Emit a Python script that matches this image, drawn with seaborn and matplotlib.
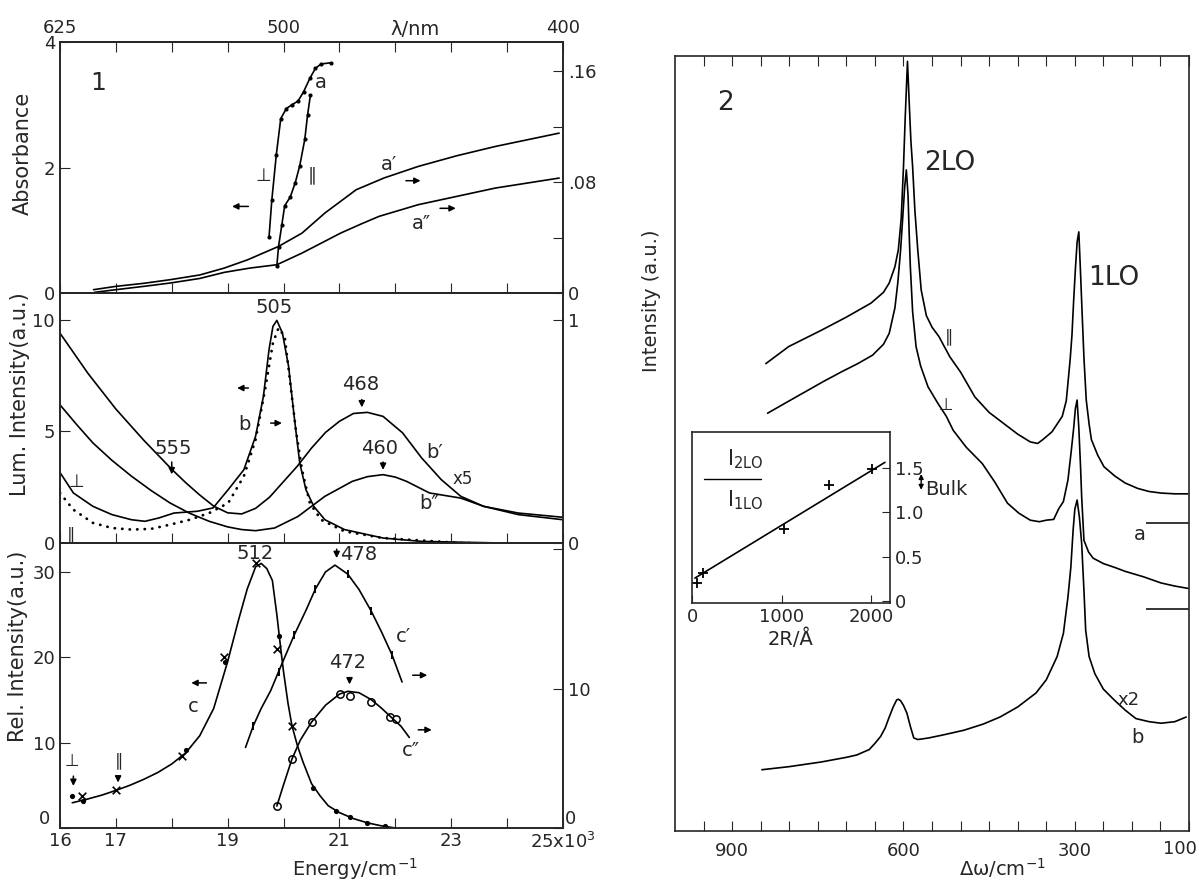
import numpy as np
import matplotlib.pyplot as plt
import seaborn as sns

sns.set_style('ticks')
plt.rcParams['font.family'] = ['DejaVu Sans']
plt.rcParams['xtick.direction'] = 'in'
plt.rcParams['ytick.direction'] = 'in'
plt.rcParams['xtick.major.size'] = 7
plt.rcParams['ytick.major.size'] = 7
plt.rcParams['axes.linewidth'] = 1.2

# ---------------- Figure 1, top: absorbance ----------------
a_perp_x = [19.74, 19.79, 19.87, 19.95, 20.05, 20.15, 20.26, 20.36, 20.47, 20.57, 20.67, 20.85]
a_perp_y = [0.89, 1.48, 2.20, 2.78, 2.94, 3.00, 3.06, 3.21, 3.42, 3.58, 3.65, 3.67]
a_para_x = [19.88, 19.91, 19.97, 20.02, 20.12, 20.21, 20.29, 20.38, 20.43, 20.48]
a_para_y = [0.43, 0.74, 1.09, 1.39, 1.53, 1.76, 2.03, 2.45, 2.84, 3.15]
a1_x = [16.60, 17.00, 17.50, 17.97, 18.50, 18.94, 19.36, 19.91, 20.33, 20.74, 21.30, 21.80, 22.41, 23.10, 23.79, 24.93]
a1_y = [0.0024, 0.0048, 0.0070, 0.0096, 0.0130, 0.0180, 0.0240, 0.0336, 0.0432, 0.0577, 0.0745, 0.0830, 0.0913, 0.0990, 0.1057, 0.1153]
a2_x = [16.62, 17.00, 17.50, 17.97, 18.50, 18.94, 19.40, 19.88, 20.33, 20.70, 21.02, 21.40, 21.71, 22.41, 23.10, 23.79, 24.93]
a2_y = [0.0005, 0.0024, 0.0048, 0.0072, 0.0105, 0.0149, 0.0180, 0.0204, 0.0288, 0.0365, 0.0432, 0.0500, 0.0553, 0.0637, 0.0697, 0.0757, 0.0829]

# ---------------- Figure 1, middle: luminescence ----------------
bA_x = [16.0, 16.25, 16.5, 16.75, 17.0, 17.25, 17.5, 17.75, 18.0, 18.25, 18.5, 18.75, 19.0, 19.25,
        19.5, 19.75, 20.0, 20.25, 20.5, 20.75, 21.0, 21.25, 21.5, 21.78, 22.13, 22.47, 22.82, 23.17,
        23.58, 24.2, 25.0]
bA_y = [9.4, 8.5, 7.6, 6.8, 6.0, 5.3, 4.6, 3.95, 3.3, 2.7, 2.15, 1.65, 1.35, 1.3, 1.55, 2.05, 2.75,
        3.45, 4.25, 4.95, 5.45, 5.8, 5.85, 5.67, 4.93, 3.81, 2.84, 2.09, 1.64, 1.34, 1.15]
bB_x = [16.0, 16.3, 16.59, 16.93, 17.28, 17.63, 17.97, 18.32, 18.67, 19.0, 19.25, 19.5, 19.84, 20.26,
        20.74, 21.23, 21.5, 21.78, 22.0, 22.2, 22.61, 23.17, 23.58, 24.2, 25.0]
bB_y = [6.19, 5.3, 4.48, 3.7, 2.99, 2.35, 1.79, 1.33, 0.97, 0.72, 0.6, 0.55, 0.67, 1.19, 2.09, 2.76,
        2.97, 3.06, 2.95, 2.76, 2.24, 2.01, 1.64, 1.27, 1.04]
b_perp_x = [16.0, 16.24, 16.59, 16.93, 17.28, 17.52, 17.77, 18.04, 18.46, 18.74, 19.01, 19.29, 19.5,
            19.64, 19.74, 19.81, 19.88, 19.98, 20.09, 20.19, 20.29, 20.4, 20.54, 20.74, 21.09, 21.78,
            22.47, 23.86, 25.0]
b_perp_y = [3.16, 2.24, 1.64, 1.27, 1.04, 0.97, 1.12, 1.34, 1.42, 1.57, 2.39, 3.28, 4.78, 6.57, 8.66,
            9.7, 9.97, 9.4, 7.91, 5.67, 3.58, 2.39, 1.64, 1.04, 0.6, 0.22, 0.07, 0.0, -0.06]
b_para_x = [16.0, 16.24, 16.59, 16.93, 17.28, 17.63, 17.97, 18.32, 18.67, 19.01, 19.29, 19.5, 19.67,
            19.81, 19.91, 20.02, 20.12, 20.22, 20.33, 20.47, 20.67, 21.09, 21.78, 23.17, 25.0]
b_para_y = [0.224, 0.149, 0.090, 0.067, 0.060, 0.063, 0.082, 0.104, 0.134, 0.179, 0.299, 0.463,
            0.687, 0.896, 0.963, 0.925, 0.716, 0.507, 0.328, 0.179, 0.104, 0.052, 0.022, 0.0, -0.008]

# ---------------- Figure 1, bottom: excitation spectra ----------------
c_x = [16.22, 16.5, 16.75, 17.0, 17.25, 17.5, 17.75, 18.0, 18.25, 18.5, 18.75, 19.0, 19.2, 19.35,
       19.5, 19.6, 19.7, 19.8, 19.88, 19.95, 20.0, 20.08, 20.15, 20.25, 20.35, 20.5, 20.65, 20.8,
       21.0, 21.25, 21.5, 21.75, 22.0]
c_y = [2.95, 3.4, 3.85, 4.4, 5.0, 5.7, 6.5, 7.5, 8.8, 10.8, 14.0, 19.5, 24.5, 28.0, 30.6, 31.0, 30.4,
       29.0, 25.0, 21.0, 18.3, 14.6, 12.0, 9.6, 7.7, 5.2, 3.8, 2.6, 1.8, 1.1, 0.6, 0.25, 0.0]
c_cross_x = [16.39, 17.01, 18.19, 18.94, 19.50, 19.89, 20.15]
c_cross_y = [3.7, 4.4, 8.4, 20.0, 31.0, 21.0, 12.0]
c_dot_x = [16.22, 16.42, 18.25, 18.96, 19.91, 20.53, 20.94, 21.19, 21.5, 21.82]
c_dot_y = [3.8, 3.2, 9.1, 19.5, 22.5, 4.7, 2.0, 1.3, 0.6, 0.2]
c1_x = [19.32, 19.46, 19.6, 19.77, 19.91, 20.19, 20.4, 20.57, 20.75, 20.92, 21.15, 21.35, 21.57,
        21.75, 21.94, 22.12]
c1_y = [5.78, 7.34, 8.57, 9.85, 11.2, 13.83, 15.6, 17.14, 18.36, 18.85, 18.2, 17.1, 15.54, 14.08,
        12.42, 10.47]
c1_mark_x = [19.46, 19.91, 20.19, 20.57, 21.15, 21.57, 21.94]
c1_mark_y = [7.34, 11.2, 13.83, 17.14, 18.2, 15.54, 12.42]
c2_x = [19.88, 20.0, 20.15, 20.3, 20.5, 20.75, 21.0, 21.15, 21.35, 21.57, 21.75, 21.91, 22.1, 22.25]
c2_y = [1.57, 3.1, 4.94, 6.3, 7.59, 8.8, 9.6, 9.8, 9.7, 9.2, 8.6, 8.0, 7.3, 6.49]
c2_mark_x = [19.88, 20.15, 20.5, 21.01, 21.19, 21.57, 21.91, 22.01]
c2_mark_y = [1.57, 4.94, 7.59, 9.64, 9.5, 9.03, 7.96, 7.83]

# ---------------- Figure 2: Raman spectra ----------------
r_para_x = [841, 801, 744, 700, 657, 635, 625, 615, 609, 604, 600, 597, 593, 590, 587, 584, 580, 575,
            569, 560, 550, 538, 519, 500, 475, 450, 425, 400, 378, 365, 356, 340, 322, 315, 312, 308,
            305, 302, 299, 296, 293, 290, 287, 284, 280, 275, 271, 260, 249, 230, 212, 190, 170, 149,
            125, 102]
r_para_y = [60.3, 62.5, 64.6, 66.3, 68.1, 69.5, 70.7, 72.8, 75.0, 79.0, 85.7, 92.0, 99.3, 94.0, 89.0,
            85.7, 80.0, 75.0, 69.8, 66.5, 65.0, 63.8, 61.2, 59.2, 56.0, 54.0, 52.6, 51.2, 50.2, 50.0,
            50.5, 51.5, 53.5, 55.5, 57.8, 61.0, 64.0, 68.5, 72.5, 76.0, 77.3, 72.0, 66.4, 61.0, 55.6,
            52.5, 50.5, 48.5, 47.0, 45.8, 44.9, 44.2, 43.8, 43.6, 43.5, 43.5]
r_perp_x = [838, 800, 776, 740, 707, 680, 654, 635, 625, 615, 610, 605, 601, 598, 595, 592, 590, 588,
            584, 578, 570, 557, 540, 525, 513, 490, 462, 440, 418, 398, 378, 362, 350, 337, 328, 320,
            312, 306, 302, 299, 296, 293, 290, 288, 284, 276, 268, 250, 230, 212, 180, 149, 125, 102]
r_perp_y = [53.9, 55.5, 56.5, 58.0, 59.3, 60.3, 61.4, 62.8, 64.2, 67.5, 70.7, 75.0, 79.5, 83.0, 85.3,
            82.0, 77.0, 72.8, 67.0, 62.5, 60.0, 57.3, 55.2, 53.5, 51.7, 49.5, 47.4, 45.0, 42.3, 41.0,
            40.1, 39.9, 40.1, 40.2, 41.6, 42.5, 45.3, 49.2, 52.0, 54.5, 55.6, 52.0, 47.0, 43.1, 37.5,
            36.0, 35.2, 34.5, 34.0, 33.5, 32.8, 32.0, 31.6, 31.3]
r_b_x = [848, 800, 744, 700, 682, 660, 650, 640, 632, 625, 618, 612, 609, 605, 600, 594, 588, 582,
         575, 565, 556, 530, 494, 460, 431, 400, 368, 350, 331, 320, 312, 307, 303, 300, 296, 292,
         288, 284, 281, 275, 265, 250, 231, 212, 193, 170, 149, 125, 105]
r_b_y = [7.9, 8.3, 8.9, 9.5, 9.8, 10.5, 11.3, 12.2, 13.3, 14.7, 16.0, 16.9, 17.0, 16.8, 16.2, 15.2,
         13.5, 12.0, 11.8, 11.9, 12.0, 12.4, 13.0, 13.8, 14.7, 16.0, 17.8, 19.5, 22.5, 25.5, 30.2,
         34.0, 38.8, 41.5, 42.7, 40.5, 37.1, 31.0, 25.9, 22.5, 20.3, 18.3, 16.9, 15.6, 14.5, 14.1,
         13.9, 14.1, 14.7]
r_ref_levels = [39.8, 28.6]

# inset: I2LO / I1LO vs particle size
ins_x = [50, 117, 1020, 1527, 2013]
ins_y = [0.21, 0.32, 0.81, 1.31, 1.48]
ins_fit_x = [28, 2155]
ins_fit_y = [0.26, 1.56]

energy_ticks = list(range(16, 26))
energy_labels = ['16', '17', '', '19', '', '21', '', '23', '', '25x10$^3$']
lam_labelled = [625, 500, 400]
raman_ticks = list(range(950, 99, -50))
raman_labelled = [900, 600, 300]


def line(ax, x, y, **kw):
    kw.setdefault('lw', 1.2)
    sns.lineplot(x=x, y=y, ax=ax, sort=False, estimator=None, color='black',
                 legend=False, **kw)


def arrow(ax, x0, y0, x1, y1):
    ax.annotate('', xy=(x1, y1), xytext=(x0, y0),
                arrowprops=dict(arrowstyle='-|>', color='black', lw=1.1, mutation_scale=9))


fig = plt.figure(figsize=(11.99, 8.81), dpi=100)
ax_a = fig.add_axes([0.050, 0.6674, 0.4196, 0.2849])
ax_b = fig.add_axes([0.050, 0.3837, 0.4196, 0.2838], sharex=ax_a)
ax_c = fig.add_axes([0.050, 0.0602, 0.4196, 0.3235], sharex=ax_a)
ax2 = fig.add_axes([0.563, 0.0568, 0.4287, 0.8797])
ins = fig.add_axes([0.5771, 0.3155, 0.1651, 0.1941])

tick_fs = 13
note_fs = 14

# ---- top: absorbance ----
ax_a2 = ax_a.twinx()
line(ax_a, a_perp_x, a_perp_y, marker='o', markersize=3, markeredgewidth=0)
line(ax_a, a_para_x, a_para_y, marker='o', markersize=3, markeredgewidth=0)
line(ax_a2, a1_x, a1_y)
line(ax_a2, a2_x, a2_y)
ax_a.set_xlim(16, 25)
ax_a.set_ylim(0, 4)
ax_a.set_yticks([0, 2, 4])
ax_a2.set_ylim(0, 0.181)
ax_a2.set_yticks([0, 0.04, 0.08, 0.12, 0.16])
ax_a2.set_yticklabels(['0', '', '.08', '', '.16'])
ax_a.set_xticks(energy_ticks)
ax_a.tick_params(labelbottom=False, top=False, labelsize=tick_fs)
ax_a2.tick_params(labelsize=tick_fs)

sec = ax_a.secondary_xaxis('top', functions=(lambda x: 1e4 / np.clip(x, 1e-3, None),
                                             lambda x: 1e4 / np.clip(x, 1e-3, None)))
lam_ticks = [1e4 / e for e in energy_ticks]
sec.set_xticks(lam_ticks)
sec.set_xticklabels([f'{v:.0f}' if round(v) in lam_labelled else '' for v in lam_ticks])
sec.tick_params(direction='in', labelsize=tick_fs, length=7)
fig.text(0.346, 0.966, 'λ/nm', fontsize=14, ha='center', va='center')

ax_a.text(16.69, 3.34, '1', fontsize=18, ha='center', va='center')
ax_a.text(20.66, 3.36, 'a', fontsize=note_fs, ha='center', va='center')
ax_a.text(19.64, 1.87, '⊥', fontsize=13, ha='center', va='center')
ax_a.text(20.52, 1.87, '∥', fontsize=13, ha='center', va='center')
ax_a.text(21.89, 2.05, 'a′', fontsize=note_fs, ha='center', va='center')
ax_a.text(22.47, 1.1, 'a″', fontsize=note_fs, ha='center', va='center')
arrow(ax_a, 19.42, 1.38, 19.03, 1.38)
arrow(ax_a, 22.14, 1.79, 22.5, 1.79)
arrow(ax_a, 22.75, 1.35, 23.13, 1.35)

# ---- middle: luminescence ----
ax_b2 = ax_b.twinx()
line(ax_b, bA_x, bA_y)
line(ax_b, bB_x, bB_y)
line(ax_b, b_perp_x, b_perp_y)
line(ax_b2, b_para_x, b_para_y, lw=2.0, dashes=(0.1, 2.6), dash_capstyle='round')
ax_b.set_ylim(0, 11.2)
ax_b.set_yticks([0, 5, 10])
ax_b2.set_ylim(0, 1.12)
ax_b2.set_yticks([0, 1])
ax_b.tick_params(labelbottom=False, labelsize=tick_fs)
ax_b2.tick_params(labelsize=tick_fs)
ax_b.text(19.84, 10.55, '505', fontsize=note_fs, ha='center', va='center')
ax_b.text(21.37, 7.09, '468', fontsize=note_fs, ha='center', va='center')
ax_b.text(21.71, 4.25, '460', fontsize=note_fs, ha='center', va='center')
ax_b.text(18.02, 4.25, '555', fontsize=note_fs, ha='center', va='center')
arrow(ax_b, 21.4, 6.55, 21.4, 5.95)
arrow(ax_b, 21.78, 3.75, 21.78, 3.15)
arrow(ax_b, 18.0, 3.75, 18.0, 2.95)
ax_b.text(16.3, 2.75, '⊥', fontsize=13, ha='center', va='center')
ax_b.text(16.2, 0.4, '∥', fontsize=12, ha='center', va='center')
ax_b.text(19.3, 5.3, 'b', fontsize=note_fs, ha='center', va='center')
ax_b.text(22.7, 4.05, 'b′', fontsize=note_fs, ha='center', va='center')
ax_b.text(23.2, 2.85, 'x5', fontsize=12, ha='center', va='center')
ax_b.text(22.6, 1.75, 'b″', fontsize=note_fs, ha='center', va='center')
arrow(ax_b, 19.42, 6.94, 19.12, 6.94)
arrow(ax_b, 19.72, 5.37, 20.02, 5.37)

# ---- bottom: excitation ----
ax_c2 = ax_c.twinx()
line(ax_c, c_x, c_y)
sns.scatterplot(x=c_cross_x, y=c_cross_y, ax=ax_c, marker='x', color='black', s=30,
                linewidth=1.2, legend=False)
sns.scatterplot(x=c_dot_x, y=c_dot_y, ax=ax_c, marker='o', color='black', s=14,
                linewidth=0, legend=False)
line(ax_c2, c1_x, c1_y)
sns.scatterplot(x=c1_mark_x, y=c1_mark_y, ax=ax_c2, marker='|', color='black', s=40,
                linewidth=1.4, legend=False)
line(ax_c2, c2_x, c2_y)
sns.scatterplot(x=c2_mark_x, y=c2_mark_y, ax=ax_c2, marker='o', facecolor='white',
                edgecolor='black', s=28, linewidth=1.1, legend=False)
ax_c.set_ylim(0, 33.4)
ax_c.set_yticks([0, 10, 20, 30])
ax_c2.set_ylim(0, 20.44)
ax_c2.set_yticks([0, 10, 20])
ax_c2.set_yticklabels(['', '10', ''])
ax_c.set_xticks(energy_ticks)
ax_c.set_xticklabels(energy_labels)
ax_c.set_yticklabels(['', '10', '20', '30'])
ax_c.tick_params(labelsize=tick_fs, pad=3)
ax_c2.tick_params(labelsize=tick_fs)
# zero labels of the bottom panel sit beside the corners, as in the original
ax_c.text(-0.03, 0.0, '0', transform=ax_c.transAxes, fontsize=tick_fs, ha='center', va='bottom')
ax_c2.text(1.015, 0.0, '0', transform=ax_c2.transAxes, fontsize=tick_fs, ha='center', va='bottom')
ax_c.text(19.5, 32.2, '512', fontsize=note_fs, ha='center', va='center')
ax_c.text(21.35, 32.0, '478', fontsize=note_fs, ha='center', va='center')
arrow(ax_c, 20.95, 33.0, 20.95, 31.3)
ax_c.text(21.15, 19.4, '472', fontsize=note_fs, ha='center', va='center')
arrow(ax_c, 21.18, 17.9, 21.18, 16.5)
ax_c.text(18.39, 14.2, 'c', fontsize=note_fs, ha='center', va='center')
arrow(ax_c, 18.67, 17.0, 18.3, 17.0)
ax_c.text(22.15, 22.4, 'c′', fontsize=note_fs, ha='center', va='center')
arrow(ax_c, 22.26, 17.9, 22.62, 17.9)
ax_c.text(22.28, 9.1, 'c″', fontsize=note_fs, ha='center', va='center')
arrow(ax_c, 22.36, 11.5, 22.7, 11.5)
ax_c.text(16.22, 7.9, '⊥', fontsize=12, ha='center', va='center')
arrow(ax_c, 16.24, 6.4, 16.24, 4.6)
ax_c.text(17.05, 7.9, '∥', fontsize=12, ha='center', va='center')
arrow(ax_c, 17.04, 6.4, 17.04, 5.0)

for ax in (ax_a, ax_b, ax_c):
    ax.set_ylabel('')
    ax.set_xlabel('')
for ax in (ax_a2, ax_b2, ax_c2):
    ax.set_ylabel('')

fig.text(0.019, 0.826, 'Absorbance', rotation=90, fontsize=15, ha='center', va='center')
fig.text(0.017, 0.553, 'Lum. Intensity(a.u.)', rotation=90, fontsize=15, ha='center', va='center')
fig.text(0.015, 0.266, 'Rel. Intensity(a.u.)', rotation=90, fontsize=15, ha='center', va='center')
fig.text(0.296, 0.013, 'Energy/cm$^{-1}$', fontsize=14, ha='center', va='center')

# ---- Figure 2 ----
line(ax2, r_para_x, r_para_y)
line(ax2, r_perp_x, r_perp_y)
line(ax2, r_b_x, r_b_y)
ax2.hlines(r_ref_levels, 175, 100, color='black', lw=1.1)
ax2.set_xlim(1000, 100)
ax2.set_ylim(0, 100)
ax2.set_yticks([])
ax2.set_xticks(raman_ticks)
ax2.set_xticklabels([str(t) if t in raman_labelled else '' for t in raman_ticks])
ax2.tick_params(top=True, labelsize=tick_fs, pad=8)
ax2.text(1.0155, -0.0115, '100', transform=ax2.transAxes, fontsize=tick_fs, ha='right', va='top')
ax2.set_xlabel('')
ax2.set_ylabel('')
ax2.text(911, 93.9, '2', fontsize=19, ha='center', va='center')
ax2.text(519, 86.2, '2LO', fontsize=19, ha='center', va='center')
ax2.text(231, 71.3, '1LO', fontsize=19, ha='center', va='center')
ax2.text(520, 63.8, '∥', fontsize=12, ha='center', va='center')
ax2.text(525, 55.0, '⊥', fontsize=12, ha='center', va='center')
ax2.text(187, 38.2, 'a', fontsize=note_fs, ha='center', va='center')
ax2.text(206, 16.9, 'x2', fontsize=13, ha='center', va='center')
ax2.text(191, 12.0, 'b', fontsize=note_fs, ha='center', va='center')
fig.text(0.543, 0.659, 'Intensity (a.u.)', rotation=90, fontsize=14, ha='center', va='center')
fig.text(0.836, 0.015, 'Δω/cm$^{-1}$', fontsize=14, ha='center', va='center')

# ---- inset ----
ins.set_facecolor('white')
line(ins, ins_fit_x, ins_fit_y)
sns.scatterplot(x=ins_x, y=ins_y, ax=ins, marker='+', color='black', s=60, linewidth=1.3,
                legend=False)
ins.set_xlim(-5, 2210)
ins.set_ylim(-0.02, 1.9)
ins.set_xticks([0, 1000, 2000])
ins.set_yticks([0, 0.5, 1.0, 1.5])
ins.set_yticklabels(['0', '0.5', '1.0', '1.5'])
ins.yaxis.tick_right()
ins.tick_params(labelsize=tick_fs, length=6)
ins.set_xlabel('2R/Å', fontsize=14, labelpad=2)
ins.set_ylabel('')
ins.text(0.27, 0.84, 'I$_{\\mathrm{2LO}}$', transform=ins.transAxes, fontsize=15,
         ha='center', va='center')
ins.plot([0.06, 0.35], [0.725, 0.725], transform=ins.transAxes, color='black', lw=1)
ins.text(0.27, 0.6, 'I$_{\\mathrm{1LO}}$', transform=ins.transAxes, fontsize=15,
         ha='center', va='center')
ins.annotate('', xy=(2560, 1.22), xytext=(2560, 1.46), annotation_clip=False,
             arrowprops=dict(arrowstyle='<|-|>', color='black', lw=1, mutation_scale=7))
ins.text(2600, 1.25, 'Bulk', fontsize=14, ha='left', va='center', clip_on=False)

fig.savefig('out.png', dpi=100)
